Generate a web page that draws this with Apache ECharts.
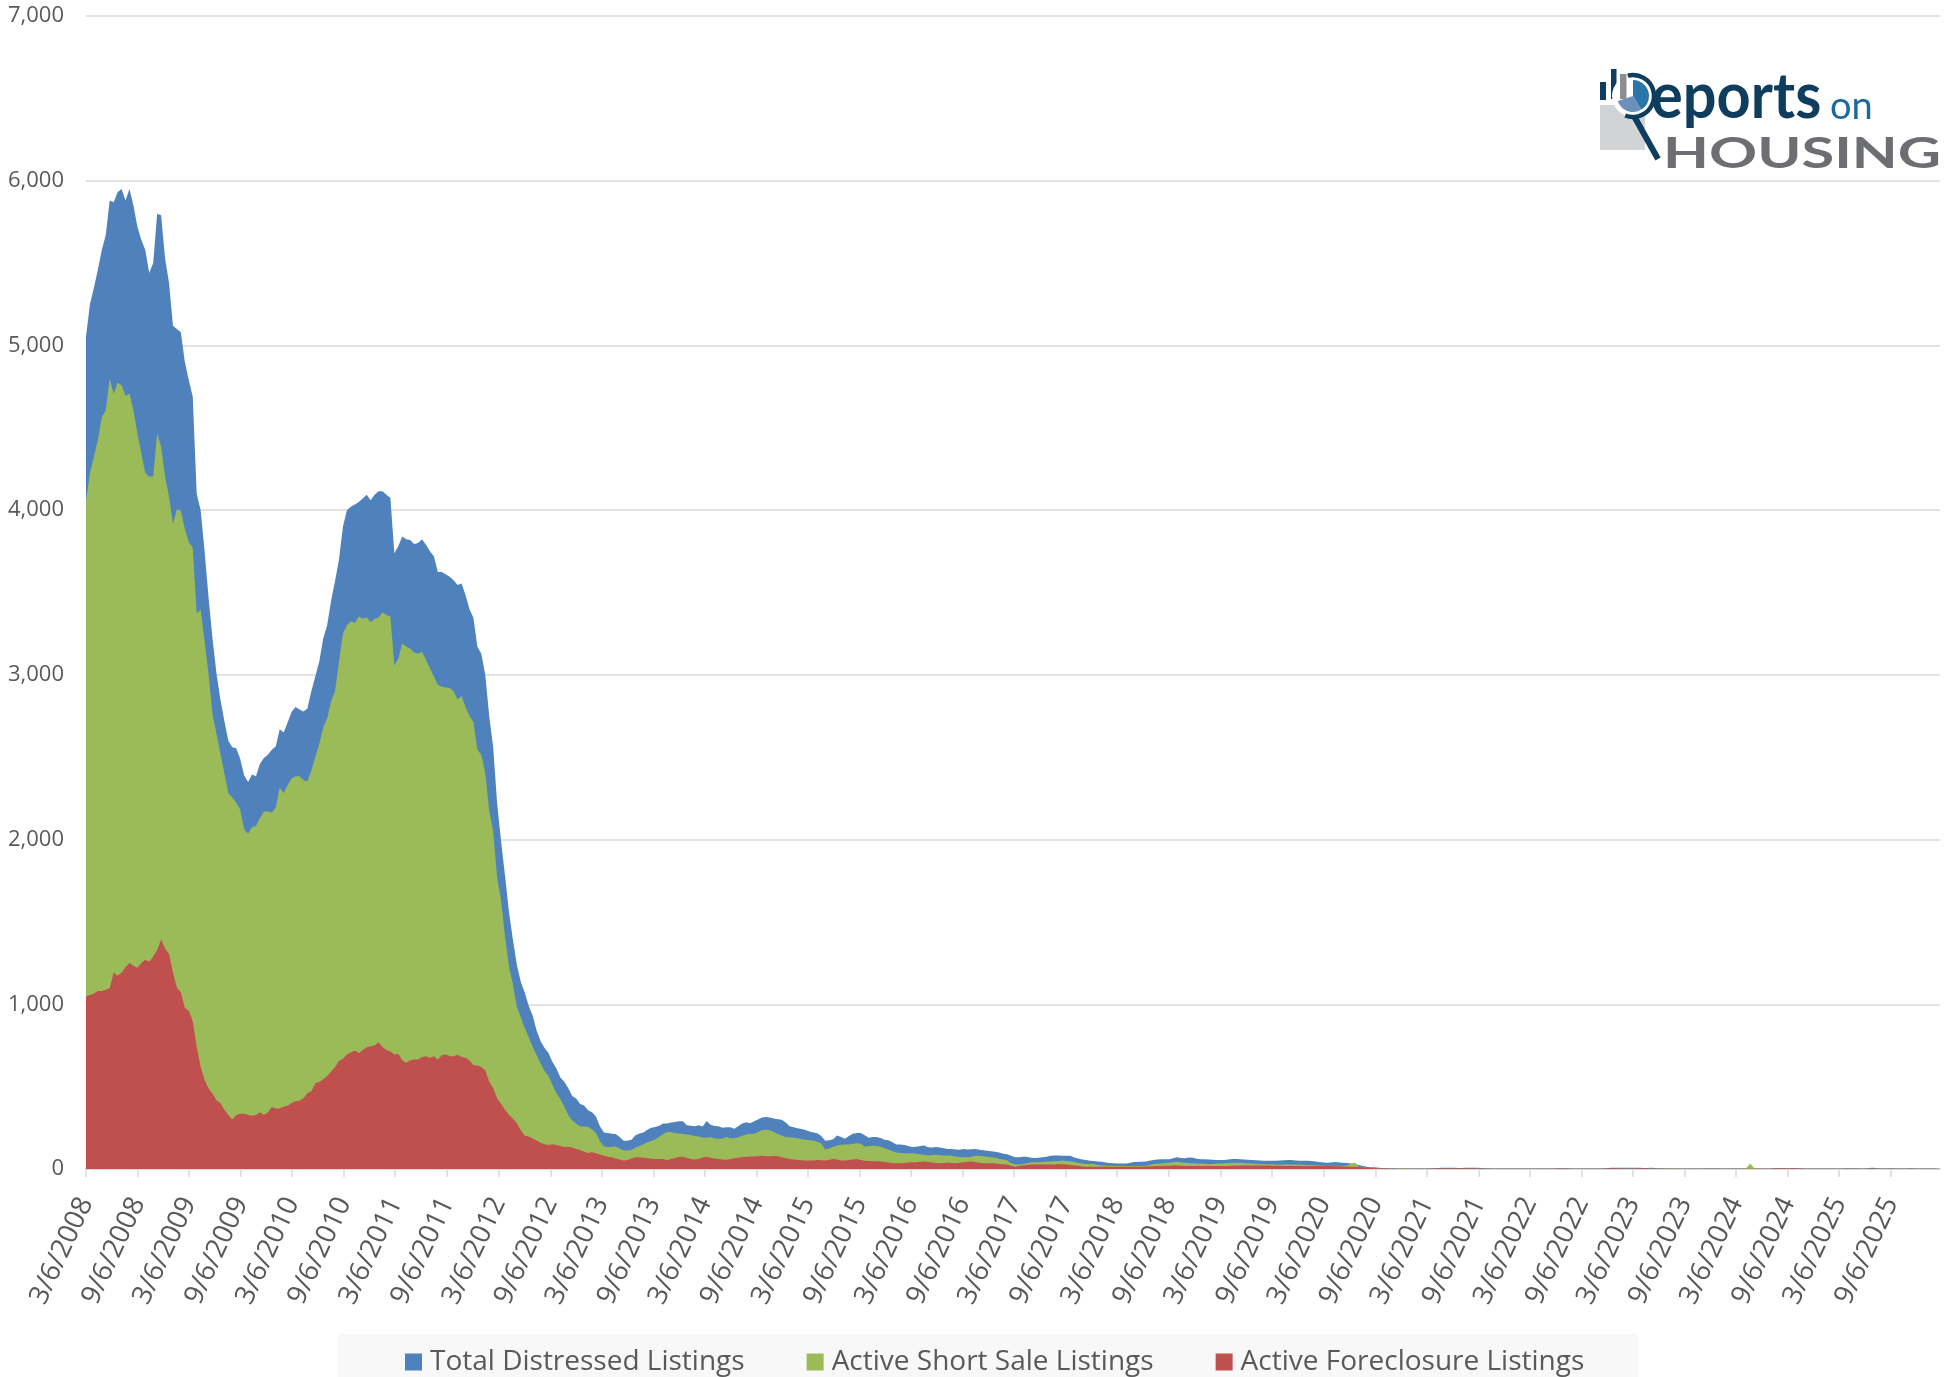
<!DOCTYPE html>
<html>
<head>
<meta charset="utf-8">
<title>Distressed Listings</title>
<script src="https://cdn.jsdelivr.net/npm/echarts@6/dist/echarts.min.js"></script>
<style>
  html, body { margin: 0; padding: 0; background: #ffffff; }
  #chart { width: 1951px; height: 1377px; }
</style>
</head>
<body>
<div id="chart"></div>
<script>
// Biweekly observations (every other Thursday) starting 3/6/2008.
const startDate = '2008-03-06';
const stepDays = 14;

const tickLabels = [
  '3/6/2008', '9/6/2008', '3/6/2009', '9/6/2009', '3/6/2010', '9/6/2010',
  '3/6/2011', '9/6/2011', '3/6/2012', '9/6/2012', '3/6/2013', '9/6/2013',
  '3/6/2014', '9/6/2014', '3/6/2015', '9/6/2015', '3/6/2016', '9/6/2016',
  '3/6/2017', '9/6/2017', '3/6/2018', '9/6/2018', '3/6/2019', '9/6/2019',
  '3/6/2020', '9/6/2020', '3/6/2021', '9/6/2021', '3/6/2022', '9/6/2022',
  '3/6/2023', '9/6/2023', '3/6/2024', '9/6/2024', '3/6/2025', '9/6/2025'
];

const seriesNames = ['Total Distressed Listings', 'Active Short Sale Listings', 'Active Foreclosure Listings'];

const totalDistressed = [
  5054,5250,5350,5460,5580,5670,5880,5870,5930,5950,5880,5950,5850,5720,5640,5580,5440,5500,5800,5790,5530,5380,5120,5100,5080,4900,
  4790,4690,4100,4000,3750,3470,3220,3010,2850,2720,2600,2560,2555,2490,2390,2350,2395,2385,2460,2495,2515,2545,2565,2670,2650,2710,
  2775,2805,2790,2778,2796,2900,2990,3080,3220,3300,3450,3570,3700,3900,4000,4020,4035,4050,4070,4094,4060,4094,4114,4114,4094,4074,
  3739,3781,3840,3824,3818,3795,3801,3824,3790,3750,3720,3625,3625,3611,3595,3575,3545,3555,3485,3400,3347,3170,3128,3000,2750,2560,
  2220,1990,1780,1560,1390,1239,1135,1070,990,930,840,775,735,705,650,610,555,530,490,443,428,394,386,357,345,318,
  260,222,218,214,212,195,172,172,178,205,216,222,239,250,255,262,276,276,282,286,290,290,265,262,260,265,
  258,292,268,261,259,251,253,253,245,260,276,284,277,290,300,312,316,312,306,302,299,283,260,253,248,243,
  237,228,222,217,200,172,175,180,203,195,184,200,214,218,218,205,190,194,194,188,178,175,162,149,149,146,
  140,134,135,140,143,132,131,133,130,126,122,122,119,117,122,118,120,122,117,114,111,108,104,100,92,89,
  80,71,71,74,75,68,67,68,71,75,80,82,82,81,80,80,70,64,58,54,50,48,46,44,40,37,
  35,33,33,34,36,42,43,44,46,50,55,57,59,59,59,65,71,67,66,70,68,62,59,59,58,56,
  55,55,55,58,61,60,59,57,56,55,53,51,50,50,50,50,51,53,54,55,51,50,50,50,48,45,
  42,40,38,40,42,40,38,37,34,30,24,18,14,11,10,8,6,5,4,4,3,3,6,3,3,3,
  3,3,4,5,6,7,8,8,7,6,6,7,8,8,7,6,5,4,3,3,3,3,3,3,3,3,
  3,3,3,3,3,3,3,3,4,5,5,4,3,3,3,3,3,3,3,3,4,6,7,8,8,7,
  7,8,8,7,6,6,7,6,5,4,3,3,3,3,3,3,3,3,3,3,4,5,5,4,3,3,
  3,3,3,3,3,3,3,3,3,3,3,4,5,5,4,4,5,5,4,3,3,3,3,3,3,3,
  3,3,3,4,5,5,4,3,3,6,8,6,3,3,4,4,3,3,3,4,4,3,3,3,3,3,
  3,2
];

const activeShortSale = [
  4053,4225,4325,4425,4566,4606,4798,4706,4774,4758,4694,4706,4606,4465,4345,4225,4205,4205,4465,4385,4205,4085,3917,4005,3997,3885,
  3805,3773,3372,3396,3204,3004,2763,2643,2523,2403,2283,2255,2223,2183,2063,2035,2075,2083,2131,2171,2171,2163,2195,2315,2283,2331,
  2371,2385,2385,2360,2352,2420,2500,2580,2680,2735,2840,2900,3080,3250,3300,3325,3315,3355,3340,3350,3320,3341,3347,3378,3364,3355,
  3057,3100,3190,3171,3160,3135,3128,3142,3090,3040,2990,2940,2928,2923,2920,2900,2850,2872,2805,2750,2716,2546,2515,2403,2176,2050,
  1770,1630,1409,1230,1120,983,920,855,800,740,690,640,595,565,510,460,425,380,328,296,275,258,258,257,240,218,
  168,138,134,134,137,125,113,113,116,130,140,150,163,170,180,194,212,224,225,219,215,213,210,206,200,198,
  190,191,192,186,184,185,194,187,186,192,202,210,214,214,224,235,238,236,225,212,204,192,193,190,186,182,
  178,175,173,165,155,118,125,135,143,147,149,149,153,156,153,136,138,141,139,135,126,118,108,100,97,96,
  96,95,92,90,87,84,84,87,83,82,82,80,76,73,71,71,75,81,80,77,74,71,68,62,57,53,
  35,29,27,31,35,39,41,41,42,45,46,47,49,51,49,47,42,36,33,31,31,29,24,22,20,19,
  18,18,18,18,18,18,18,18,20,25,30,32,34,36,38,41,44,41,38,36,35,34,34,32,30,31,
  33,34,35,37,38,38,38,37,35,34,32,31,30,29,29,28,28,28,28,28,28,27,26,25,24,23,
  22,21,20,20,20,20,20,22,32,40,14,10,8,6,4,3,2,2,1,1,1,2,6,2,1,1,
  1,1,1,1,1,1,1,1,1,1,1,1,1,1,1,1,1,1,1,1,1,1,1,1,1,1,
  1,1,1,1,1,1,1,1,1,1,1,1,1,1,1,1,1,1,1,1,1,1,1,1,1,1,
  1,1,1,1,1,1,1,1,1,1,4,1,1,1,1,1,1,1,1,1,1,1,1,1,1,1,
  1,1,1,1,6,34,4,1,1,1,1,1,1,1,1,1,1,1,1,1,1,1,1,1,1,1,
  1,1,1,1,1,1,1,1,1,1,1,1,1,1,1,1,1,1,1,1,1,1,1,1,1,1,
  1,1
];

const activeForeclosure = [
  1049,1057,1065,1081,1081,1089,1097,1193,1173,1193,1225,1250,1234,1222,1250,1270,1258,1290,1330,1394,1338,1306,1193,1101,1073,977,
  961,897,741,621,541,489,457,417,400,360,328,300,328,336,336,328,324,328,344,328,344,376,368,368,380,384,
  400,412,415,430,460,472,520,528,545,565,590,620,655,670,695,708,720,705,722,739,745,750,770,740,722,713,
  695,699,660,645,660,665,665,680,685,676,685,665,690,695,685,685,693,680,676,660,630,628,620,600,530,490,
  430,395,360,330,305,278,235,202,198,185,173,160,150,145,150,145,140,133,135,130,122,115,105,97,102,95,
  88,80,75,71,63,57,51,54,63,71,71,69,66,62,61,61,60,53,60,67,73,74,67,60,57,61,
  70,75,68,64,61,57,56,61,66,68,71,74,76,76,77,80,78,77,79,77,71,65,61,58,55,53,
  51,51,52,54,53,51,56,60,57,51,52,55,58,60,55,50,48,47,47,47,42,39,35,35,35,37,
  40,41,41,44,46,43,40,37,35,37,40,37,35,38,41,44,45,42,38,35,35,35,34,31,29,27,
  20,14,18,22,25,27,27,27,27,27,27,28,30,29,27,25,22,19,15,14,14,14,13,13,13,13,
  13,13,13,13,13,14,14,14,15,16,17,18,18,19,20,21,22,20,18,18,18,18,18,18,18,18,
  18,18,18,18,19,20,21,22,22,22,22,22,22,21,20,20,19,18,18,18,18,18,18,18,18,18,
  18,18,18,18,17,16,15,14,14,13,12,10,8,6,5,4,3,3,2,2,2,2,2,2,2,2,
  2,2,2,3,4,5,5,4,3,3,4,5,5,4,3,2,2,2,2,2,2,2,2,2,2,2,
  2,2,2,2,2,2,2,2,2,3,3,2,2,2,2,2,2,2,2,2,2,3,4,4,3,2,
  2,2,3,4,4,3,2,2,2,2,2,2,2,2,2,2,2,2,2,2,2,2,2,2,2,2,
  2,2,2,2,2,2,2,2,2,2,2,3,4,4,3,3,4,3,2,2,2,2,2,2,2,2,
  2,2,2,2,2,2,2,2,2,2,3,2,2,2,2,2,2,2,2,2,2,2,2,2,2,2,
  2,2
];

const seriesColors = ['#4f81bd', '#9bbb59', '#c0504d'];

// x positions are days elapsed since the first observation
const DAY_MS = 86400000;
const t0 = Date.parse(startDate + 'T00:00:00Z');
function daysFromStart(label) {
  const [m, d, y] = label.split('/').map(Number);
  return Math.round((Date.UTC(y, m - 1, d) - t0) / DAY_MS);
}
const tickDays = tickLabels.map(daysFromStart);
const labelByDay = {};
tickDays.forEach((d, k) => { labelByDay[d] = tickLabels[k]; });

function toPoints(values) {
  return values.map((v, i) => [i * stepDays, v]);
}
const lastDay = (totalDistressed.length - 1) * stepDays;

const axisText = '#595959';
const gridGray = '#d9d9d9';

function areaSeries(name, values, color) {
  return {
    name: name,
    type: 'line',
    data: toPoints(values),
    symbol: 'none',
    showSymbol: false,
    smooth: false,
    silent: true,
    lineStyle: { width: 0, color: color },
    itemStyle: { color: color },
    areaStyle: { color: color, opacity: 1 }
  };
}

// "Reports on HOUSING" wordmark, top right
const navy = '#0f3d5e';
const logo = [
  { type: 'rect', shape: { x: 1600, y: 105, width: 45, height: 45 }, style: { fill: '#d2d3d5' } },
  { type: 'rect', shape: { x: 1600, y: 82, width: 6, height: 18 }, style: { fill: navy } },
  { type: 'rect', shape: { x: 1611, y: 69, width: 5.5, height: 30 }, style: { fill: navy } },
  { type: 'circle', shape: { cx: 1633, cy: 96, r: 21 }, style: { fill: '#ffffff' } },
  { type: 'sector', shape: { cx: 1633, cy: 96, r0: 0, r: 16, startAngle: -Math.PI / 2, endAngle: Math.PI / 3 }, style: { fill: '#2b76a8' } },
  { type: 'sector', shape: { cx: 1633, cy: 96, r0: 0, r: 16, startAngle: Math.PI / 3, endAngle: Math.PI * 0.9 }, style: { fill: '#6a90bb' } },
  { type: 'rect', shape: { x: 1620, y: 74, width: 6.5, height: 25 }, style: { fill: '#8c8e91' } },
  { type: 'arc', shape: { cx: 1633, cy: 96, r: 21, startAngle: -Math.PI * 0.58, endAngle: Math.PI * 0.62, clockwise: true }, style: { stroke: navy, lineWidth: 4.5, fill: null } },
  { type: 'line', shape: { x1: 1634, y1: 116, x2: 1658, y2: 159 }, style: { stroke: navy, lineWidth: 6 } },
  { type: 'text', x: 1651, y: 129, scaleX: 0.93, style: { text: 'eports', font: 'bold 64px Lato', fill: navy, textAlign: 'left', textVerticalAlign: 'bottom' } },
  { type: 'text', x: 1830, y: 126, style: { text: 'on', font: '38px Lato', fill: '#1c6a9c', textAlign: 'left', textVerticalAlign: 'bottom' } },
  { type: 'text', x: 1663, y: 175, scaleX: 1.42, style: { text: 'HOUSING', font: 'bold 42px Lato', fill: '#6d6e71', textAlign: 'left', textVerticalAlign: 'bottom' } }
];

const chart = echarts.init(document.getElementById('chart'), null, { renderer: 'canvas' });
chart.setOption({
  animation: false,
  backgroundColor: '#ffffff',
  color: seriesColors,
  grid: { left: 86, right: 11, top: 16, bottom: 208, containLabel: false, outerBoundsMode: 'none' },
  xAxis: {
    type: 'value',
    min: 0,
    max: lastDay,
    splitLine: { show: false },
    axisLine: { show: true, lineStyle: { color: gridGray, width: 2 } },
    axisTick: { show: true, customValues: tickDays, length: 8, lineStyle: { color: gridGray, width: 1.5 } },
    axisLabel: {
      customValues: tickDays,
      formatter: (v) => labelByDay[Math.round(v)] || '',
      rotate: 65,
      margin: 30,
      color: axisText,
      fontFamily: 'Open Sans',
      fontSize: 27.5
    }
  },
  yAxis: {
    type: 'value',
    min: 0,
    max: 7000,
    interval: 1000,
    axisLine: { show: false },
    axisTick: { show: false },
    splitLine: { show: true, lineStyle: { color: gridGray, width: 1.5 } },
    axisLabel: {
      margin: 22,
      color: axisText,
      fontFamily: 'Open Sans',
      fontSize: 22,
      formatter: (v) => v.toLocaleString('en-US')
    }
  },
  legend: {
    data: seriesNames,
    left: 405,
    top: 1348,
    padding: 0,
    icon: 'rect',
    itemWidth: 17,
    itemHeight: 17,
    itemGap: 62,
    textStyle: { color: axisText, fontFamily: 'Open Sans', fontSize: 28, padding: [0, 0, 0, 3] }
  },
  graphic: [
    { type: 'rect', shape: { x: 338, y: 1334, width: 1300, height: 43 }, style: { fill: '#f8f8f8' }, z: -10 }
  ].concat(logo),
  series: [
    areaSeries(seriesNames[0], totalDistressed, seriesColors[0]),
    areaSeries(seriesNames[1], activeShortSale, seriesColors[1]),
    areaSeries(seriesNames[2], activeForeclosure, seriesColors[2])
  ]
});
</script>
</body>
</html>
